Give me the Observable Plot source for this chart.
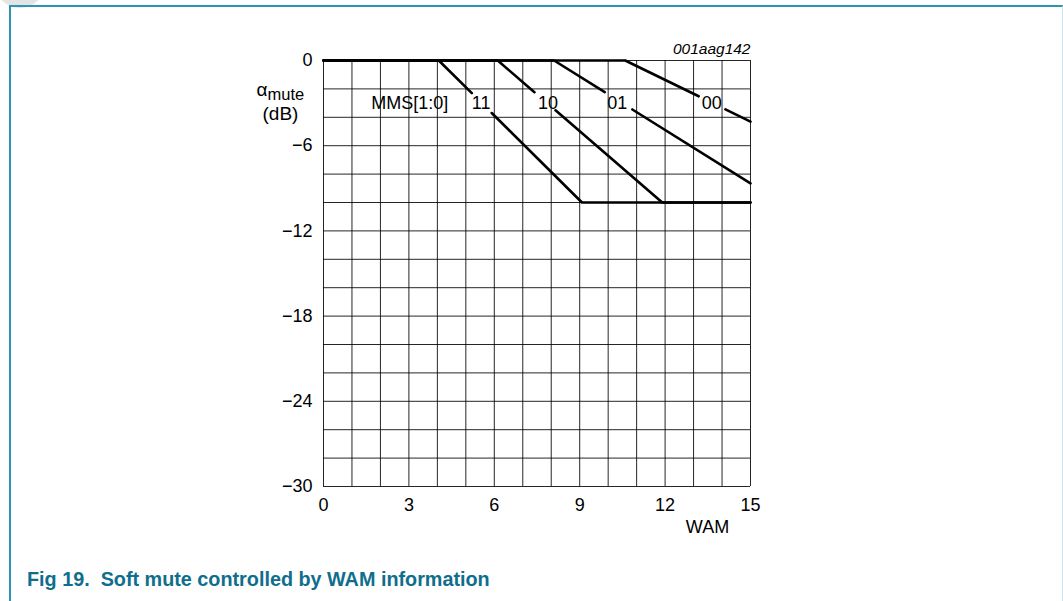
<!DOCTYPE html>
<html>
<head>
<meta charset="utf-8">
<script src="https://cdn.jsdelivr.net/npm/d3@7"></script>
<script src="https://cdn.jsdelivr.net/npm/@observablehq/plot@0.6"></script>
<style>
  html, body { margin: 0; padding: 0; background: #fff; }
  #page { position: relative; width: 1063px; height: 601px; overflow: hidden; font-family: "Liberation Sans", Arial, sans-serif; }
  #blob { position: absolute; left: -4px; top: -38px; width: 48px; height: 46px; border-radius: 50%; background: #e4e4e4; }
  #frame { position: absolute; left: 9px; top: 5px; width: 1051px; height: 640px; border-top: 2px solid #2b95b3; border-left: 2px solid #2b95b3; border-right: 1px solid #cfe2ea; }
  #chart { position: absolute; left: 0; top: 0; }
  #caption { position: absolute; left: 27px; top: 569px; font-size: 19.8px; line-height: 20px; font-weight: bold; color: #0f6e8c; white-space: pre; }
</style>
</head>
<body>
<div id="page">
  <div id="blob"></div>
  <div id="frame"></div>
  <div id="chart"></div>
  <div id="caption">Fig 19.  Soft mute controlled by WAM information</div>
</div>
<script>
// ---- data ----
const xTicks = [0, 3, 6, 9, 12, 15];
const yTicks = [0, -6, -12, -18, -24, -30];
const gridX = [0,1,2,3,4,5,6,7,8,9,10,11,12,13,14,15];
const gridY = [0,-2,-4,-6,-8,-10,-12,-14,-16,-18,-20,-22,-24,-26,-28,-30];

// WAM, attenuation (dB); NaN marks the break around each label
const curve11 = [[0,0],[4.05,0],[5.21,-2.3],[NaN,NaN],[5.91,-3.7],[9.08,-10],[15,-10]];
const curve10 = [[0,0],[6.12,0],[7.41,-2.23],[NaN,NaN],[8.15,-3.51],[11.9,-10],[15,-10]];
const curve01 = [[0,0],[8.1,0],[9.88,-2.23],[NaN,NaN],[10.85,-3.45],[15,-8.65]];
const curve00 = [[0,0],[10.6,0],[13.18,-2.52],[NaN,NaN],[14.12,-3.44],[15,-4.3]];

const labelText = ["MMS[1:0]", "11", "10", "01", "00"];
const labelX = [3.03, 5.54, 7.89, 10.32, 13.64];
const labelY = [-3, -3, -3, -3, -3];

const labels = labelText.map((t, i) => ({t, x: labelX[i], y: labelY[i]}));
const curves = [curve11, curve10, curve01, curve00];

const font = "Liberation Sans, Arial, sans-serif";
const fmt = d => d === 0 ? "0" : "\u2212" + Math.abs(d);

const chart = Plot.plot({
  width: 1063,
  height: 545,
  marginTop: 60,
  marginBottom: 59,
  marginLeft: 323,
  marginRight: 313,
  style: {fontFamily: font, color: "#000", background: "transparent"},
  x: {domain: [0, 15]},
  y: {domain: [-30, 0]},
  marks: [
    Plot.ruleX(gridX, {stroke: "#000", strokeWidth: 1, strokeOpacity: 0.85}),
    Plot.ruleY(gridY, {stroke: "#000", strokeWidth: 1, strokeOpacity: 0.85}),
    ...curves.map(c => Plot.line(c, {x: d => d[0], y: d => d[1], stroke: "#000", strokeWidth: 2.6})),
    Plot.text(labels, {x: "x", y: "y", text: "t", fontSize: 18, fill: "#000", textAnchor: "middle", lineAnchor: "middle"}),
    Plot.axisX({ticks: xTicks, tickSize: 0, tickPadding: 12, fontSize: 18, label: null, tickFormat: d => String(d)}),
    Plot.axisY({ticks: yTicks, tickSize: 0, tickPadding: 11, fontSize: 18, label: null, tickFormat: fmt}),
    Plot.text(["WAM"], {frameAnchor: "bottom-right", dx: -43, dy: 46, textAnchor: "middle", lineAnchor: "bottom", fontSize: 18}),
    Plot.text(["001aag142"], {frameAnchor: "top-right", dy: -7, textAnchor: "end", lineAnchor: "bottom", fontSize: 15.5, fontStyle: "italic"}),
    Plot.text(["\u03B1"], {frameAnchor: "top-left", dx: -67, dy: 35, textAnchor: "start", lineAnchor: "bottom", fontSize: 19}),
    Plot.text(["mute"], {frameAnchor: "top-left", dx: -56, dy: 39.5, textAnchor: "start", lineAnchor: "bottom", fontSize: 16.5}),
    Plot.text(["(dB)"], {frameAnchor: "top-left", dx: -43, dy: 59.5, textAnchor: "middle", lineAnchor: "bottom", fontSize: 19})
  ]
});
document.getElementById("chart").appendChild(chart);
</script>
</body>
</html>
